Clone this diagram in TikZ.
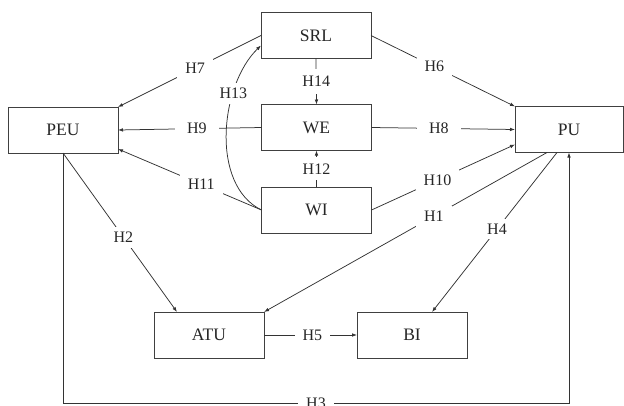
\documentclass[tikz,border=0pt]{standalone}
\usepackage{fontspec}
\setmainfont{Liberation Serif}
\usetikzlibrary{arrows.meta,calc}
\begin{document}
\begin{tikzpicture}[x=1pt,y=-1pt,
  box/.style={draw=black!75,line width=0.8pt,minimum width=110pt,minimum height=46pt,inner sep=0pt,outer sep=0pt,font=\fontsize{17.5}{18}\selectfont,text=black!85},
  arr/.style={draw=black!80,line width=0.75pt,-{Latex[length=5pt,width=3.6pt]}},
  lbl/.style={fill=white,inner xsep=8pt,inner ysep=5pt,font=\fontsize{16}{16}\selectfont,text=black!85}]
\useasboundingbox (0,0) rectangle (624,405);
\node[box] (srl) at (316,35.5) {SRL};
\node[box] (we) at (316.5,127.5) {WE};
\node[box] (wi) at (316.5,210) {WI};
\node[box] (peu) at (63,130) {PEU};
\node[box,minimum width=108pt] (pu) at (569,129.5) {PU};
\node[box] (atu) at (209,335) {ATU};
\node[box] (bi) at (412,335) {BI};
\coordinate (bot) at (0,403);
% arrows
\draw[arr] (srl.west) -- node[lbl,pos=0.46]{H7} (peu.north east);
\draw[arr] (srl.east) -- node[lbl,pos=0.44]{H6} (pu.north west);
\draw[arr] (srl.south) -- node[lbl,inner ysep=7pt]{H14} (we.north);
\draw[arr] (we.west) -- node[lbl,pos=0.45,inner xsep=12pt]{H9} (peu.east);
\draw[arr] (we.east) -- node[lbl,pos=0.47,inner xsep=12pt]{H8} (pu.west);
\draw[arr] (wi.north) -- node[lbl,inner ysep=6pt]{H12} (we.south);
\draw[arr] (wi.west) -- node[lbl,pos=0.42]{H11} ($(peu.south east)+(0,-4)$);
\draw[arr] (wi.east) -- node[lbl,pos=0.46]{H10} ($(pu.south west)+(0,-8)$);
\draw[arr] (wi.west) .. controls (210,185) and (220,85) .. node[lbl,pos=0.7,inner xsep=4pt]{H13} ($(srl.west)+(0,10)$);
\draw[arr] ($(pu.south west)+(32,0)$) -- node[lbl,pos=0.40]{H1} (atu.north east);
\draw[arr] ($(pu.south west)+(42,0)$) -- node[lbl,pos=0.48]{H4} ($(bi.north)+(20,0)$);
\draw[arr] (peu.south) -- node[lbl,pos=0.53]{H2} ($(atu.north)+(-32,0)$);
\draw[arr] (atu.east) -- node[lbl,pos=0.52]{H5} (bi.west);
\draw[arr] (peu.south) -- (peu.south |- bot) -- node[lbl]{H3} (pu.south |- bot) -- (pu.south);
\end{tikzpicture}
\end{document}
